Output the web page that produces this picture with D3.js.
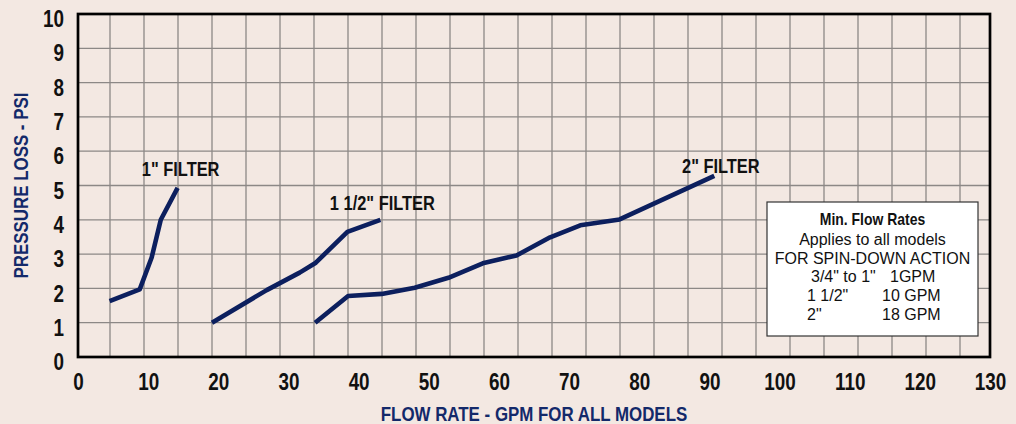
<!DOCTYPE html>
<html>
<head>
<meta charset="utf-8">
<script src="https://cdn.jsdelivr.net/npm/d3@7"></script>
<style>
  html, body { margin: 0; padding: 0; background: #f3e8e2; }
  svg { display: block; }
</style>
</head>
<body>
<div id="chart"></div>
<script>
/***********************************************************************/
//Data
/***********************************************************************/
const xTickValues = [0, 10, 20, 30, 40, 50, 60, 70, 80, 90, 100, 110, 120, 130]
const yTickValues = [0, 1, 2, 3, 4, 5, 6, 7, 8, 9, 10]

// flow rate (GPM) / pressure loss (PSI)
const filter1Flow = [4.5, 8.8, 10.5, 11.8, 14.2]
const filter1Loss = [1.63, 1.97, 2.9, 4.0, 4.93]

const filter15Flow = [19.1, 26.9, 31.6, 33.9, 38.4, 43.1]
const filter15Loss = [1.0, 1.95, 2.46, 2.75, 3.65, 4.0]

const filter2Flow = [33.8, 38.5, 43.3, 48.0, 52.8, 57.7, 62.5, 67.3, 71.6, 77.2, 90.7]
const filter2Loss = [1.0, 1.78, 1.84, 2.02, 2.31, 2.73, 2.96, 3.49, 3.84, 4.01, 5.28]

const seriesNames = ['1" FILTER', '1 1/2" FILTER', '2" FILTER']

const legendTitle = 'Min. Flow Rates'
const legendLines = ['Applies to all models', 'FOR SPIN-DOWN ACTION']
const legendSizes = ['3/4" to 1"', '1 1/2"', '2"']
const legendRates = ['1GPM', '10 GPM', '18 GPM']

const xTitle = 'FLOW RATE - GPM FOR ALL MODELS'
const yTitle = 'PRESSURE LOSS - PSI'

const series = [
	{ name : seriesNames[0], flow : filter1Flow, loss : filter1Loss, labelAt : [9.1, 5.28] },
	{ name : seriesNames[1], flow : filter15Flow, loss : filter15Loss, labelAt : [35.9, 4.29] },
	{ name : seriesNames[2], flow : filter2Flow, loss : filter2Loss, labelAt : [86.1, 5.36] }
].map(s => ({ ...s, data : s.flow.map((f, i) => ({ flow : f, loss : s.loss[i] })) }))

/***********************************************************************/
//Plot Area
/***********************************************************************/
const width = 1016
const height = 424
const margin = { left : 78, right : 26, top : 14, bottom : 67 }
const plotW = width - margin.left - margin.right
const plotH = height - margin.top - margin.bottom

const boldFont = '"Liberation Sans", Arial, sans-serif'
const plainFont = '"Liberation Sans", Arial, sans-serif'
const navy = '#0c1f5e'
const titleColor = '#13296a'

// condensed bold look: squeeze the bold sans to ~82% of its width
const narrow = sel => sel.each(function() {
	const len = this.getComputedTextLength()
	d3.select(this)
		.attr('textLength', len * 0.82)
		.attr('lengthAdjust', 'spacingAndGlyphs')
})

const svg = d3.select('#chart')
	.append('svg')
	.attr('width', width)
	.attr('height', height)

svg.append('rect')
	.attr('width', width)
	.attr('height', height)
	.attr('fill', '#f3e8e2')

const g = svg.append('g')
	.attr('transform', 'translate(' + margin.left + ',' + margin.top + ')')

/***********************************************************************/
//Scale
/***********************************************************************/
const x = d3.scaleLinear().domain([0, 130]).range([0, plotW])
const y = d3.scaleLinear().domain([0, 10]).range([plotH, 0])
// the printed grid has its own column spacing, unrelated to the labels
const xGrid = d3.scaleLinear().domain([0, 27]).range([-2, plotW + 4])

/***********************************************************************/
//Grid
/***********************************************************************/
const grid = g.append('g').attr('class', 'grid')

grid.selectAll('.vgrid')
	.data(d3.range(1, 27))
	.join('line')
	.attr('x1', d => xGrid(d))
	.attr('x2', d => xGrid(d))
	.attr('y1', 0)
	.attr('y2', plotH)
	.attr('stroke', '#8c8886')
	.attr('stroke-width', 1.3)

grid.selectAll('.hgrid')
	.data(yTickValues.slice(1, -1))
	.join('line')
	.attr('x1', 0)
	.attr('x2', plotW)
	.attr('y1', d => y(d))
	.attr('y2', d => y(d))
	.attr('stroke', '#8c8886')
	.attr('stroke-width', 1.3)

/***********************************************************************/
//Axes
/***********************************************************************/
const xAxisG = g.append('g')
	.attr('transform', 'translate(0,' + plotH + ')')
	.call(d3.axisBottom(x).tickValues(xTickValues).tickSize(0).tickPadding(17))

const yAxisG = g.append('g')
	.call(d3.axisLeft(y).tickValues(yTickValues).tickSize(0).tickPadding(14))

;[xAxisG, yAxisG].forEach(a => {
	a.select('.domain').remove()
	a.selectAll('text')
		.attr('fill', '#111')
		.style('font-family', boldFont)
		.style('font-weight', 'bold')
		.style('font-size', '23px')
		.call(narrow)
})
yAxisG.selectAll('text').attr('dy', '0.55em')
xAxisG.selectAll('text').attr('dy', '0.71em')

g.append('rect')
	.attr('x', 0)
	.attr('y', 0)
	.attr('width', plotW)
	.attr('height', plotH)
	.attr('fill', 'none')
	.attr('stroke', '#000')
	.attr('stroke-width', 2.7)

svg.append('text')
	.attr('x', margin.left + plotW / 2)
	.attr('y', 421)
	.attr('text-anchor', 'middle')
	.attr('fill', titleColor)
	.style('font-family', boldFont)
	.style('font-weight', 'bold')
	.style('font-size', '20.6px')
	.text(xTitle)
	.call(narrow)

svg.append('text')
	.attr('transform', 'translate(28,' + (margin.top + plotH / 2) + ') rotate(-90)')
	.attr('text-anchor', 'middle')
	.attr('fill', titleColor)
	.style('font-family', boldFont)
	.style('font-weight', 'bold')
	.style('font-size', '20.6px')
	.text(yTitle)
	.call(narrow)

/***********************************************************************/
//Plotting
/***********************************************************************/
const line = d3.line()
	.x(d => x(d.flow))
	.y(d => y(d.loss))

series.forEach(s => {
	g.append('path')
		.datum(s.data)
		.attr('fill', 'none')
		.attr('stroke', navy)
		.attr('stroke-width', 4.6)
		.attr('stroke-linejoin', 'round')
		.attr('d', line)

	g.append('text')
		.attr('x', x(s.labelAt[0]))
		.attr('y', y(s.labelAt[1]))
		.attr('fill', '#111')
		.style('font-family', boldFont)
		.style('font-weight', 'bold')
		.style('font-size', '20px')
		.text(s.name)
		.call(narrow)
})

/***********************************************************************/
//Legend
/***********************************************************************/
const legend = svg.append('g').attr('transform', 'translate(767,202)')
const lw = 211
const lh = 134

legend.append('rect')
	.attr('width', lw)
	.attr('height', lh)
	.attr('fill', '#fff')
	.attr('stroke', '#333')
	.attr('stroke-width', 1.2)

legend.append('text')
	.attr('x', lw / 2)
	.attr('y', 23)
	.attr('text-anchor', 'middle')
	.attr('fill', '#111')
	.style('font-family', boldFont)
	.style('font-weight', 'bold')
	.style('font-size', '17px')
	.text(legendTitle)
	.call(narrow)

legendLines.forEach((t, i) => {
	legend.append('text')
		.attr('x', lw / 2)
		.attr('y', 43 + i * 19)
		.attr('text-anchor', 'middle')
		.attr('fill', '#111')
		.style('font-family', plainFont)
		.style('font-size', '16px')
		.text(t)
})

legendSizes.forEach((t, i) => {
	const row = legend.append('g').attr('transform', 'translate(0,' + (80 + i * 19) + ')')
	row.append('text')
		.attr('x', i === 0 ? 44 : 40)
		.attr('fill', '#111')
		.style('font-family', plainFont)
		.style('font-size', '16px')
		.text(t)
	row.append('text')
		.attr('x', i === 0 ? 123 : 115)
		.attr('fill', '#111')
		.style('font-family', plainFont)
		.style('font-size', '16px')
		.text(legendRates[i])
})
</script>
</body>
</html>
